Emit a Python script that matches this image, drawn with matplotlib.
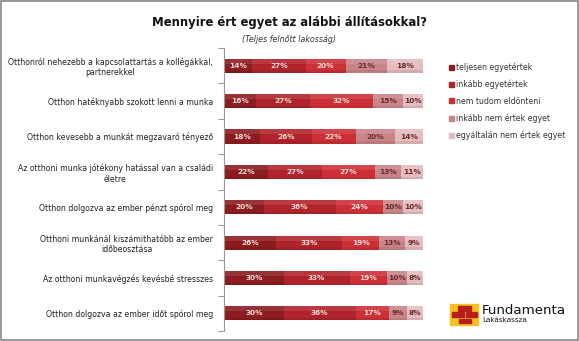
import matplotlib
matplotlib.use("Agg")
import matplotlib.pyplot as plt
from matplotlib.patches import Rectangle
import numpy as np

plt.rcParams["font.family"] = ["DejaVu Sans"]

# data (top to bottom)
statements = [
    "Otthonról nehezebb a kapcsolattartás a kollégákkal,\npartnerekkel",
    "Otthon hatéknyabb szokott lenni a munka",
    "Otthon kevesebb a munkát megzavaró tényező",
    "Az otthoni munka jótékony hatással van a családi\néletre",
    "Otthon dolgozva az ember pénzt spórol meg",
    "Otthoni munkánál kiszámithatóbb az ember\nidőbeosztása",
    "Az otthoni munkavégzés kevésbé stresszes",
    "Otthon dolgozva az ember időt spórol meg",
]
answers = ["teljesen egyetértek", "inkább egyetértek", "nem tudom eldönteni",
           "inkább nem értek egyet", "egyáltalán nem értek egyet"]
teljesen = [14, 16, 18, 22, 20, 26, 30, 30]
inkabb = [27, 27, 26, 27, 36, 33, 33, 36]
nem_tudom = [20, 32, 22, 27, 24, 19, 19, 17]
inkabb_nem = [21, 15, 20, 13, 10, 13, 10, 9]
egyaltalan = [18, 10, 14, 11, 10, 9, 8, 8]

series = [teljesen, inkabb, nem_tudom, inkabb_nem, egyaltalan]
colors = ["#8c1c20", "#b0232b", "#cc3036", "#c98488", "#e4bcbe"]
txt_col = ["#f6dede", "#f6dede", "#f6dede", "#6a2a2c", "#6a2a2c"]

fig = plt.figure(figsize=(5.79, 3.41), dpi=100)
ax = fig.add_axes([0.387, 0.029, 0.344, 0.830])

y = np.arange(len(statements))
left = np.zeros(len(statements))
for vals, c, tc, name in zip(series, colors, txt_col, answers):
    vals = np.array(vals, dtype=float)
    ax.barh(y, vals, left=left, height=0.40, color=c, label=name, linewidth=0)
    # soft shading: lighter top, darker bottom edge
    ax.barh(y - 0.13, vals, left=left, height=0.14, color="white", alpha=0.10, linewidth=0)
    ax.barh(y + 0.165, vals, left=left, height=0.07, color="black", alpha=0.08, linewidth=0)
    for yi, l, v in zip(y, left, vals):
        ax.text(l + v / 2, yi, f"{int(v)}%", ha="center", va="center",
                fontsize=5.3, fontweight="bold", color=tc)
    left += vals

ax.set_xlim(0, 100)
ax.set_ylim(len(statements) - 0.5, -0.5)
ax.set_xticks([])
ax.set_yticks(y)
ax.set_yticklabels(statements, fontsize=5.6, color="#222222", multialignment="center")
ax.tick_params(axis="y", which="major", length=0, pad=8)
ax.set_yticks(np.arange(-0.5, len(statements)), minor=True)
ax.tick_params(axis="y", which="minor", length=4, color="#999999", width=0.8)
for s in ["top", "right", "bottom"]:
    ax.spines[s].set_visible(False)
ax.spines["left"].set_color("#999999")
ax.spines["left"].set_linewidth(0.8)

fig.text(0.5, 0.935, "Mennyire ért egyet az alábbi állításokkal?", ha="center",
         va="center", fontsize=8.4, fontweight="bold", color="#111111")
fig.text(0.5, 0.885, "(Teljes felnőtt lakosság)", ha="center", va="center",
         fontsize=5.7, style="italic", color="#333333")

# legend
leg_y = [67, 84, 101, 118, 135]
for ly, c, name in zip(leg_y, colors, answers):
    fy = 1 - ly / 341
    fig.patches.append(Rectangle((449 / 579, fy - 2.5 / 341), 5 / 579, 5 / 341,
                                 transform=fig.transFigure, color=c))
    fig.text(456 / 579, fy, name, ha="left", va="center", fontsize=5.6, color="#333333")

# logo: yellow tile with red bricks (x0, y_top, width), pixel units
fig.patches.append(Rectangle((450 / 579, 1 - 325 / 341), 28 / 579, 21 / 341,
                             transform=fig.transFigure, color="#f7c21a"))
bricks = [(458, 306, 13), (452, 312, 12), (466, 312, 11), (459, 318.5, 12)]
for bx, by, bw in bricks:
    fig.patches.append(Rectangle((bx / 579, 1 - (by + 4.5) / 341), bw / 579, 4.5 / 341,
                                 transform=fig.transFigure, color="#b81c1c"))
fig.text(482 / 579, 1 - 310 / 341, "Fundamenta", ha="left", va="center",
         fontsize=9.6, color="#111111")
fig.text(482 / 579, 1 - 320.5 / 341, "Lakáskassza", ha="left", va="center",
         fontsize=5.2, color="#2a1515")

# frame around the picture
fig.patches.append(Rectangle((0.001, 0.002), 0.997, 0.996, transform=fig.transFigure,
                             fill=False, edgecolor="#888888", linewidth=1.2))

fig.savefig("out.png", dpi=100)
